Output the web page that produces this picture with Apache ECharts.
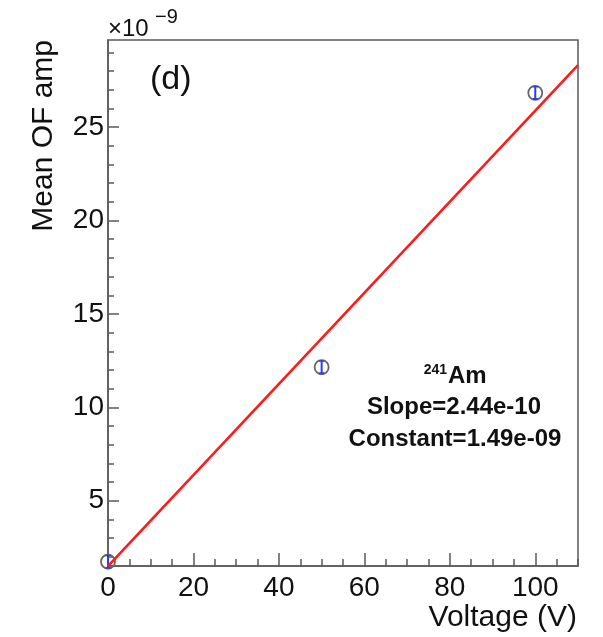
<!DOCTYPE html>
<html>
<head>
<meta charset="utf-8">
<script src="https://cdn.jsdelivr.net/npm/echarts@6.0.0/dist/echarts.min.js"></script>
<style>
html,body{margin:0;padding:0;background:#fff;}
#chart{width:603px;height:637px;}
</style>
</head>
<body>
<div id="chart"></div>
<script>
// ---- data (y values in units of 1e-9) ----
var voltages = [0, 50, 100];
var meanAmp = [1.73, 12.15, 26.84];
var ampErr = [0.33, 0.33, 0.33];
var fitX = [0, 110];
var fitY = [1.49, 28.33];
var xMajorTicks = [0, 20, 40, 60, 80, 100];
var yMajorTicks = [5, 10, 15, 20, 25];
var xRange = [0, 110];
var yRange = [1.5, 29.67];
var xMinorStep = 5;
var yMinorStep = 1;
var labelSlope = 'Slope=2.44e-10';
var labelConst = 'Constant=1.49e-09';

function minorTicks(range, step, majors) {
  var out = [];
  var start = Math.ceil(range[0] / step) * step;
  for (var v = start; v <= range[1] + 1e-9; v += step) {
    var r = Math.round(v * 1000) / 1000;
    if (majors.indexOf(r) < 0) out.push(r);
  }
  return out;
}
var xMinorTicks = minorTicks(xRange, xMinorStep, xMajorTicks);
var yMinorTicks = minorTicks(yRange, yMinorStep, yMajorTicks);

var FONT = '"Liberation Sans", Arial, Helvetica, sans-serif';
var axisCol = '#5a5a5a';
var textCol = '#111';

var chart = echarts.init(document.getElementById('chart'), null, {renderer: 'canvas'});

var pts = voltages.map(function (v, i) { return [v, meanAmp[i], ampErr[i]]; });
var fitData = fitX.map(function (v, i) { return [v, fitY[i]]; });

var option = {
  animation: false,
  backgroundColor: '#fff',
  grid: {
    left: 108, right: 25, top: 40, bottom: 71,
    show: true, borderColor: axisCol, borderWidth: 1.5, backgroundColor: 'transparent'
  },
  xAxis: [{
    type: 'value', min: xRange[0], max: xRange[1], position: 'bottom',
    axisLine: {show: true, onZero: false, lineStyle: {color: axisCol, width: 1.5}},
    axisTick: {show: true, inside: true, length: 13, customValues: xMajorTicks, lineStyle: {color: axisCol, width: 1.5}},
    axisLabel: {show: true, customValues: xMajorTicks, margin: 8, fontSize: 28, color: textCol, fontFamily: FONT},
    splitLine: {show: false}
  }, {
    type: 'value', min: xRange[0], max: xRange[1], position: 'bottom', offset: 0,
    axisLine: {show: false, onZero: false},
    axisTick: {show: true, inside: true, length: 7, customValues: xMinorTicks, lineStyle: {color: axisCol, width: 1.5}},
    axisLabel: {show: false},
    splitLine: {show: false}
  }],
  yAxis: [{
    type: 'value', min: yRange[0], max: yRange[1], position: 'left',
    axisLine: {show: true, onZero: false, lineStyle: {color: axisCol, width: 1.5}},
    axisTick: {show: true, inside: true, length: 11, customValues: yMajorTicks, lineStyle: {color: axisCol, width: 1.5}},
    axisLabel: {show: true, customValues: yMajorTicks, margin: 4, fontSize: 28, color: textCol, fontFamily: FONT},
    splitLine: {show: false}
  }, {
    type: 'value', min: yRange[0], max: yRange[1], position: 'left', offset: 0,
    axisLine: {show: false, onZero: false},
    axisTick: {show: true, inside: true, length: 6, customValues: yMinorTicks, lineStyle: {color: axisCol, width: 1.5}},
    axisLabel: {show: false},
    splitLine: {show: false}
  }],
  series: [{
    type: 'custom',
    xAxisIndex: 0, yAxisIndex: 0,
    clip: false,
    data: pts,
    renderItem: function (params, api) {
      var x = api.value(0), y = api.value(1), e = api.value(2);
      var c = api.coord([x, y]);
      var t = api.coord([x, y + e]);
      var b = api.coord([x, y - e]);
      return {
        type: 'group',
        children: [{
          type: 'circle',
          shape: {cx: c[0], cy: c[1], r: 7},
          style: {fill: 'rgba(255,255,255,0)', stroke: '#666', lineWidth: 1.8}
        }, {
          type: 'line',
          shape: {x1: t[0], y1: t[1], x2: b[0], y2: b[1]},
          style: {stroke: '#2a3bff', lineWidth: 2}
        }, {
          type: 'line',
          shape: {x1: b[0] - 2.5, y1: b[1], x2: b[0] + 2.5, y2: b[1]},
          style: {stroke: '#2a3bff', lineWidth: 2}
        }, {
          type: 'line',
          shape: {x1: t[0] - 2.5, y1: t[1], x2: t[0] + 2.5, y2: t[1]},
          style: {stroke: '#2a3bff', lineWidth: 1.5}
        }]
      };
    }
  }, {
    type: 'line',
    xAxisIndex: 0, yAxisIndex: 0,
    data: fitData,
    showSymbol: false,
    symbol: 'none',
    clip: true,
    lineStyle: {color: '#ff1a1a', width: 2.6},
    z: 3
  }],
  graphic: [
    {type: 'text', x: 108, y: 29.5, style: {text: '×10', font: '24px ' + FONT, fill: textCol, textAlign: 'left', textVerticalAlign: 'middle'}},
    {type: 'text', x: 155, y: 17, style: {text: '−9', font: '20px ' + FONT, fill: textCol, textAlign: 'left', textVerticalAlign: 'middle'}},
    {type: 'text', x: 150, y: 79.5, style: {text: '(d)', font: '34px ' + FONT, fill: textCol, textAlign: 'left', textVerticalAlign: 'middle'}},
    {type: 'text', x: 447, y: 370.5, style: {text: '241', font: 'bold 14px ' + FONT, fill: textCol, textAlign: 'right', textVerticalAlign: 'middle'}},
    {type: 'text', x: 448, y: 376, style: {text: 'Am', font: 'bold 24px ' + FONT, fill: textCol, textAlign: 'left', textVerticalAlign: 'middle'}},
    {type: 'text', x: 454, y: 407.7, style: {text: labelSlope, font: 'bold 24px ' + FONT, fill: textCol, textAlign: 'center', textVerticalAlign: 'middle'}},
    {type: 'text', x: 455, y: 439.3, style: {text: labelConst, font: 'bold 24px ' + FONT, fill: textCol, textAlign: 'center', textVerticalAlign: 'middle'}},
    {type: 'text', x: 577, y: 617.7, style: {text: 'Voltage (V)', font: '30px ' + FONT, fill: textCol, textAlign: 'right', textVerticalAlign: 'middle'}},
    {type: 'text', x: 44, y: 40, rotation: Math.PI / 2, style: {text: 'Mean OF amp', font: '30px ' + FONT, fill: textCol, textAlign: 'right', textVerticalAlign: 'middle'}}
  ]
};
chart.setOption(option);
</script>
</body>
</html>
